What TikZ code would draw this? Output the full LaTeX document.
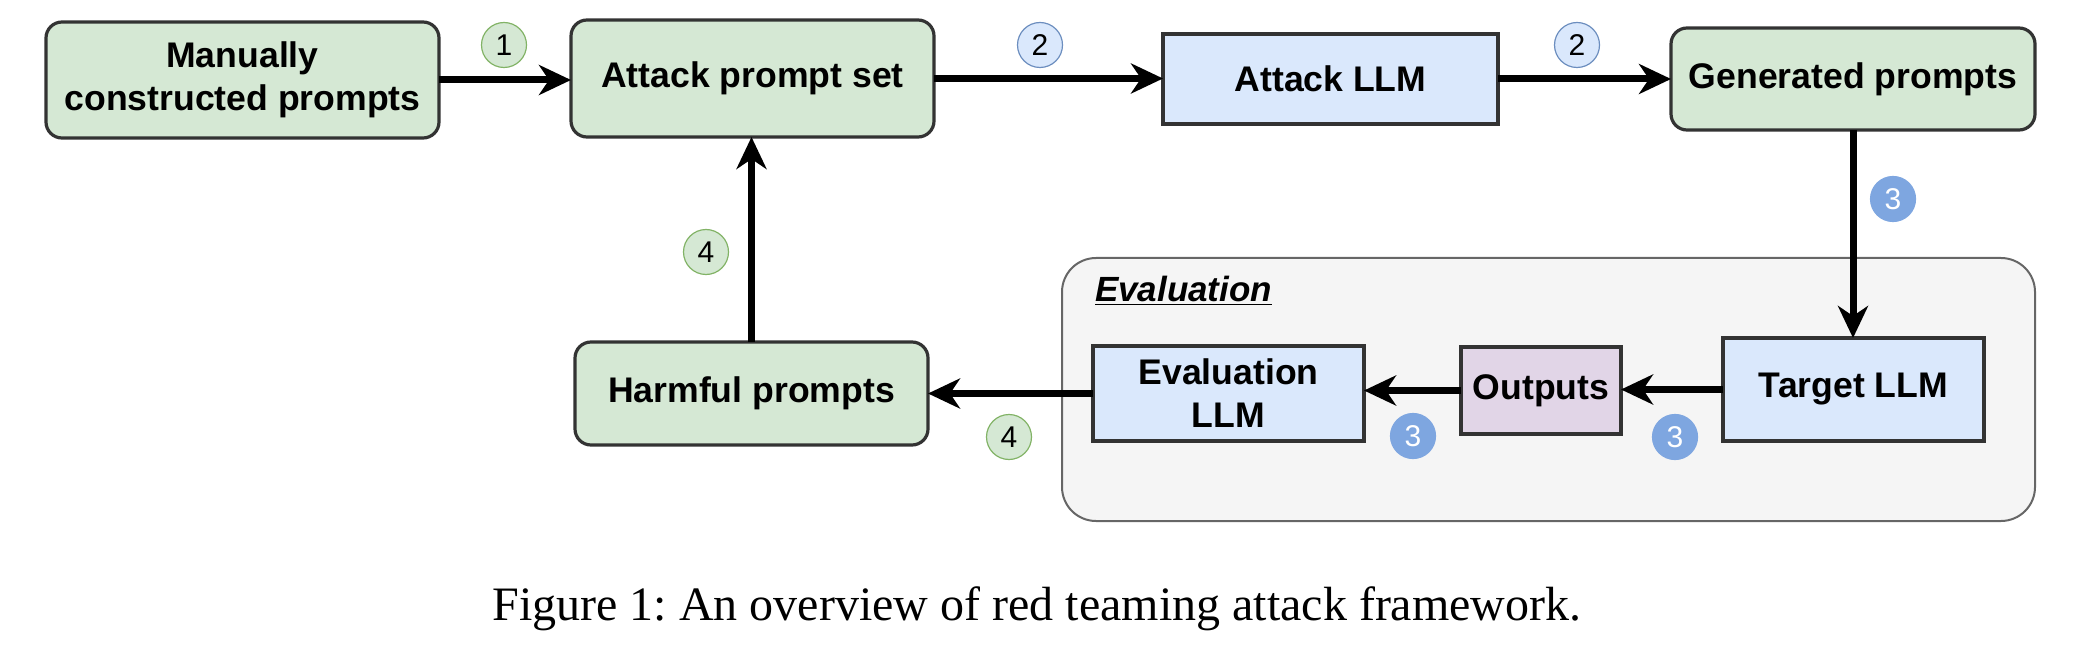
\documentclass[tikz,border=0pt]{standalone}
\usepackage{fontspec}
\setmainfont{Liberation Serif}
\newfontfamily\sansf{Liberation Sans}
\usetikzlibrary{arrows.meta,positioning,calc}
\definecolor{gfill}{HTML}{D5E8D4}
\definecolor{gline}{HTML}{82B366}
\definecolor{bfill}{HTML}{DAE8FC}
\definecolor{bline}{HTML}{6C8EBF}
\definecolor{pfill}{HTML}{E1D5E7}
\definecolor{cfill}{HTML}{F5F5F5}
\definecolor{cline}{HTML}{666666}
\definecolor{dark}{HTML}{333333}
\definecolor{numfill}{HTML}{7EA6E0}
\tikzset{
  box/.style={draw=dark, line width=1.6pt, inner sep=0pt, outer sep=0pt, align=center,
    font=\sansf\bfseries\fontsize{17.8}{21.5}\selectfont},
  gbox/.style={box, fill=gfill, rounded corners=8pt},
  bbox/.style={box, fill=bfill},
  pbox/.style={box, fill=pfill},
  num/.style={circle, draw, line width=0.6pt, inner sep=0pt, minimum size=22.5pt,
    font=\sansf\fontsize{15}{15}\selectfont},
  gnum/.style={num, fill=gfill, draw=gline},
  bnum/.style={num, fill=bfill, draw=bline},
  fnum/.style={num, fill=numfill, draw=numfill, text=white},
  flow/.style={line width=3.5pt, -{Stealth[length=16pt, width=15pt, inset=5pt]}},
}
\begin{document}
\frenchspacing
\begin{tikzpicture}[x=0.5pt,y=-0.5pt]
\useasboundingbox (0,0) rectangle (2076,652);
% evaluation container
\draw[draw=cline, fill=cfill, line width=1pt, rounded corners=17pt] (1062,258) rectangle (2035,521);
\node[anchor=base west, font=\sansf\bfseries\itshape\fontsize{17.5}{19}\selectfont] (evtitle) at (1088,301) {\underline{Evaluation}};
% nodes
\node[gbox, minimum width=196.5pt, minimum height=58pt] (man) at (242.5,80) {Manually\\constructed prompts};
\node[gbox, minimum width=181.5pt, minimum height=58.5pt] (aps) at (752.5,78.5) {Attack prompt set};
\node[bbox, minimum width=167.5pt, minimum height=45pt] (allm) at (1330.5,79) {Attack LLM};
\node[gbox, minimum width=182pt, minimum height=51pt] (gen) at (1853,79) {Generated prompts};
\node[gbox, minimum width=176.5pt, minimum height=51.5pt] (harm) at (751.5,393.5) {Harmful prompts};
\node[bbox, minimum width=135.5pt, minimum height=47.5pt] (evl) at (1228.5,393.5) {Evaluation\\LLM};
\node[pbox, minimum width=80pt, minimum height=43.5pt] (out) at (1541,390.5) {Outputs};
\node[bbox, minimum width=130.5pt, minimum height=51.5pt] (tgt) at (1853.5,389.5) {Target LLM};
% step numbers
\node[gnum] (n1) at (504,45) {1};
\node[bnum] (n2a) at (1040,45) {2};
\node[bnum] (n2b) at (1577,45) {2};
\node[fnum] (n3a) at (1893,199) {3};
\node[fnum] (n3b) at (1413,436) {3};
\node[fnum] (n3c) at (1675,437) {3};
\node[gnum] (n4a) at (706,252) {4};
\node[gnum] (n4b) at (1009,437) {4};
% connectors
\draw[flow] (man.east) -- (man.east -| aps.west);
\draw[flow] (aps.east) -- (aps.east -| allm.west);
\draw[flow] (allm.east) -- (allm.east -| gen.west);
\draw[flow] (gen.south) -- (gen.south |- tgt.north);
\draw[flow] (tgt.west) -- (tgt.west -| out.east);
\draw[flow] (out.west) -- (out.west -| evl.east);
\draw[flow] (evl.west) -- (evl.west -| harm.east);
\draw[flow] (harm.north) -- (harm.north |- aps.south);
% caption
\node[anchor=base, font=\fontsize{24}{28}\selectfont] (cap) at (1037,620) {Figure 1: An overview of red teaming attack framework.};
\end{tikzpicture}
\end{document}
